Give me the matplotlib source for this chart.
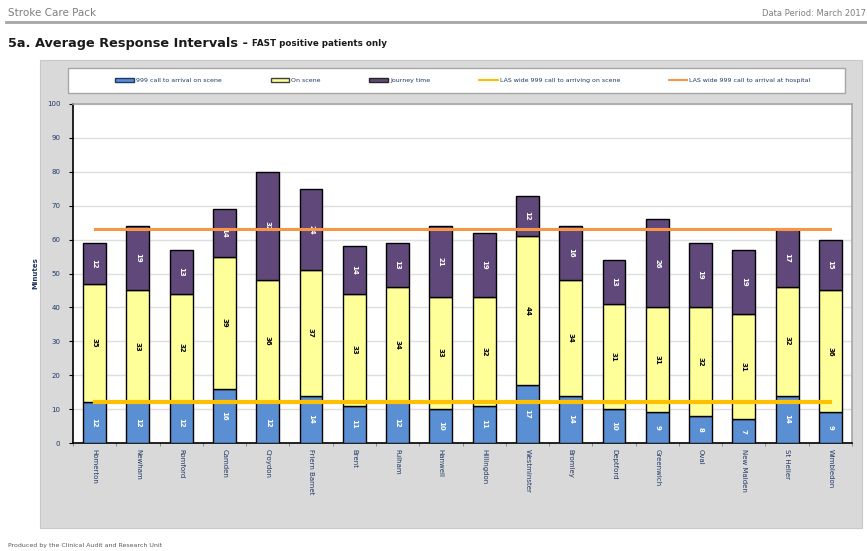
import matplotlib
matplotlib.use("Agg")
import matplotlib.pyplot as plt
from matplotlib.patches import Rectangle, Patch
from matplotlib.lines import Line2D
from matplotlib.text import Annotation
import numpy as np

# ---- data -------------------------------------------------------------
complexes = ["Homerton", "Newham", "Romford", "Camden", "Croydon",
             "Friern Barnet", "Brent", "Fulham", "Hanwell", "Hillingdon",
             "Westminster", "Bromley", "Deptford", "Greenwich", "Oval",
             "New Malden", "St Helier", "Wimbledon"]
call_to_scene = [12, 12, 12, 16, 12, 14, 11, 12, 10, 11, 17, 14, 10, 9, 8, 7, 14, 9]
on_scene      = [35, 33, 32, 39, 36, 37, 33, 34, 33, 32, 44, 34, 31, 31, 32, 31, 32, 36]
journey_time  = [12, 19, 13, 14, 32, 24, 14, 13, 21, 19, 12, 16, 13, 26, 19, 19, 17, 15]
las_call_to_scene = 12
las_call_to_hospital = 63

series_labels = ["999 call to arrival on scene", "On scene", "Journey time",
                 "LAS wide 999 call to arriving on scene",
                 "LAS wide 999 call to arrival at hospital"]

# ---- styling -----------------------------------------------------------
W, H = 867, 551
BLUE, YELLOW, PURPLE = "#5A8FD4", "#FFFF99", "#60497A"
GOLD, ORANGE = "#FFC000", "#F79646"
PANEL = "#D9D9D9"

fig = plt.figure(figsize=(W / 100, H / 100), dpi=100)
fig.patch.set_facecolor("white")

def fx(px):
    return px / W

def fy(py):
    return 1 - py / H

# page header
fig.text(fx(8), fy(13), "Stroke Care Pack", fontsize=7.5, color="#7F7F7F",
         va="center", ha="left")
fig.text(fx(866), fy(13), "Data Period: March 2017", fontsize=6,
         color="#7F7F7F", va="center", ha="right")
fig.add_artist(Line2D([fx(6), fx(867)], [fy(22), fy(22)], color="#A6A6A6",
                      lw=2.0))

t1 = fig.text(fx(8), fy(43), "5a. Average Response Intervals - ", fontsize=9.3,
              fontweight="bold", color="#1A1A1A", va="center", ha="left")
subtitle = Annotation("FAST positive patients only", xy=(1, 0.45),
                      xycoords=t1, fontsize=6.3, fontweight="bold",
                      color="#1A1A1A", va="center", ha="left",
                      annotation_clip=False)
fig.add_artist(subtitle)

# grey chart panel
fig.add_artist(Rectangle((fx(40), fy(528)), fx(822), 468 / H,
                         transform=fig.transFigure, facecolor=PANEL,
                         edgecolor="#C8C8C8", lw=0.8, zorder=0))

# legend frame
fig.add_artist(Rectangle((fx(68), fy(93)), fx(777), 25 / H,
                         transform=fig.transFigure, facecolor="white",
                         edgecolor="#A6A6A6", lw=1.0, zorder=1))

# plot area
ax = fig.add_axes([fx(73), fy(443), fx(779), 339 / H])
ax.set_facecolor("white")
x = np.arange(len(complexes))
bw = 0.53
edge = dict(edgecolor="black", linewidth=1.0)

b1 = ax.bar(x, call_to_scene, bw, color=BLUE, zorder=3, **edge)
b2 = ax.bar(x, on_scene, bw, bottom=call_to_scene, color=YELLOW, zorder=3, **edge)
bottom3 = np.array(call_to_scene) + np.array(on_scene)
b3 = ax.bar(x, journey_time, bw, bottom=bottom3, color=PURPLE, zorder=3, **edge)

for bars, col in ((b1, "white"), (b2, "black"), (b3, "white")):
    ax.bar_label(bars, labels=[str(int(round(b.get_height()))) for b in bars],
                 label_type="center", rotation=270, fontsize=5,
                 fontweight="bold", color=col)

ax.plot([x[0], x[-1]], [las_call_to_scene] * 2, color=GOLD, lw=3.0, zorder=4)
ax.plot([x[0], x[-1]], [las_call_to_hospital] * 2, color=ORANGE, lw=2.2, zorder=4)

ax.set_xlim(-0.5, len(complexes) - 0.5)
ax.set_ylim(0, 100)
ax.set_yticks(np.arange(0, 101, 10))
ax.tick_params(axis="y", labelsize=5, length=3, width=0.8, pad=6,
               labelcolor="#1F3864")
ax.yaxis.grid(True, color="#DEDEDE", lw=1.0, zorder=0)
ax.set_axisbelow(True)

ax.set_xticks(x)
ax.set_xticklabels(complexes, rotation=270, fontsize=5, color="#1F3864",
                   va="top", ha="center")
ax.tick_params(axis="x", length=0, pad=4)
ax.set_xticks(np.arange(-0.5, len(complexes), 1), minor=True)
ax.tick_params(axis="x", which="minor", length=2.5, width=0.6, color="#7F7F7F")

ax.set_ylabel("Minutes", fontsize=5, fontweight="bold", color="#1F3864",
              labelpad=6)

for side in ("left", "bottom"):
    ax.spines[side].set_color("black")
    ax.spines[side].set_linewidth(1.2)
for side in ("top", "right"):
    ax.spines[side].set_color("#A6A6A6")
    ax.spines[side].set_linewidth(1.2)

# legend
handles = [Patch(facecolor=BLUE, edgecolor="#1F3864", lw=1.0),
           Patch(facecolor=YELLOW, edgecolor="#404040", lw=1.0),
           Patch(facecolor=PURPLE, edgecolor="#262626", lw=1.0),
           Line2D([], [], color=GOLD, lw=1.5),
           Line2D([], [], color=ORANGE, lw=1.5)]
leg = fig.legend(handles, series_labels, ncol=5, loc="center",
                 bbox_to_anchor=(fx(463), fy(80.5)),
                 fontsize=4.5, frameon=False,
                 handlelength=3.0, handleheight=0.6, handletextpad=0.3,
                 columnspacing=7.8, labelcolor="#1F3864")
leg.set_zorder(2)

# footer
fig.text(fx(8), fy(545), "Produced by the Clinical Audit and Research Unit",
         fontsize=4.5, color="#595959", va="center", ha="left")

fig.savefig("out.png", dpi=100)
